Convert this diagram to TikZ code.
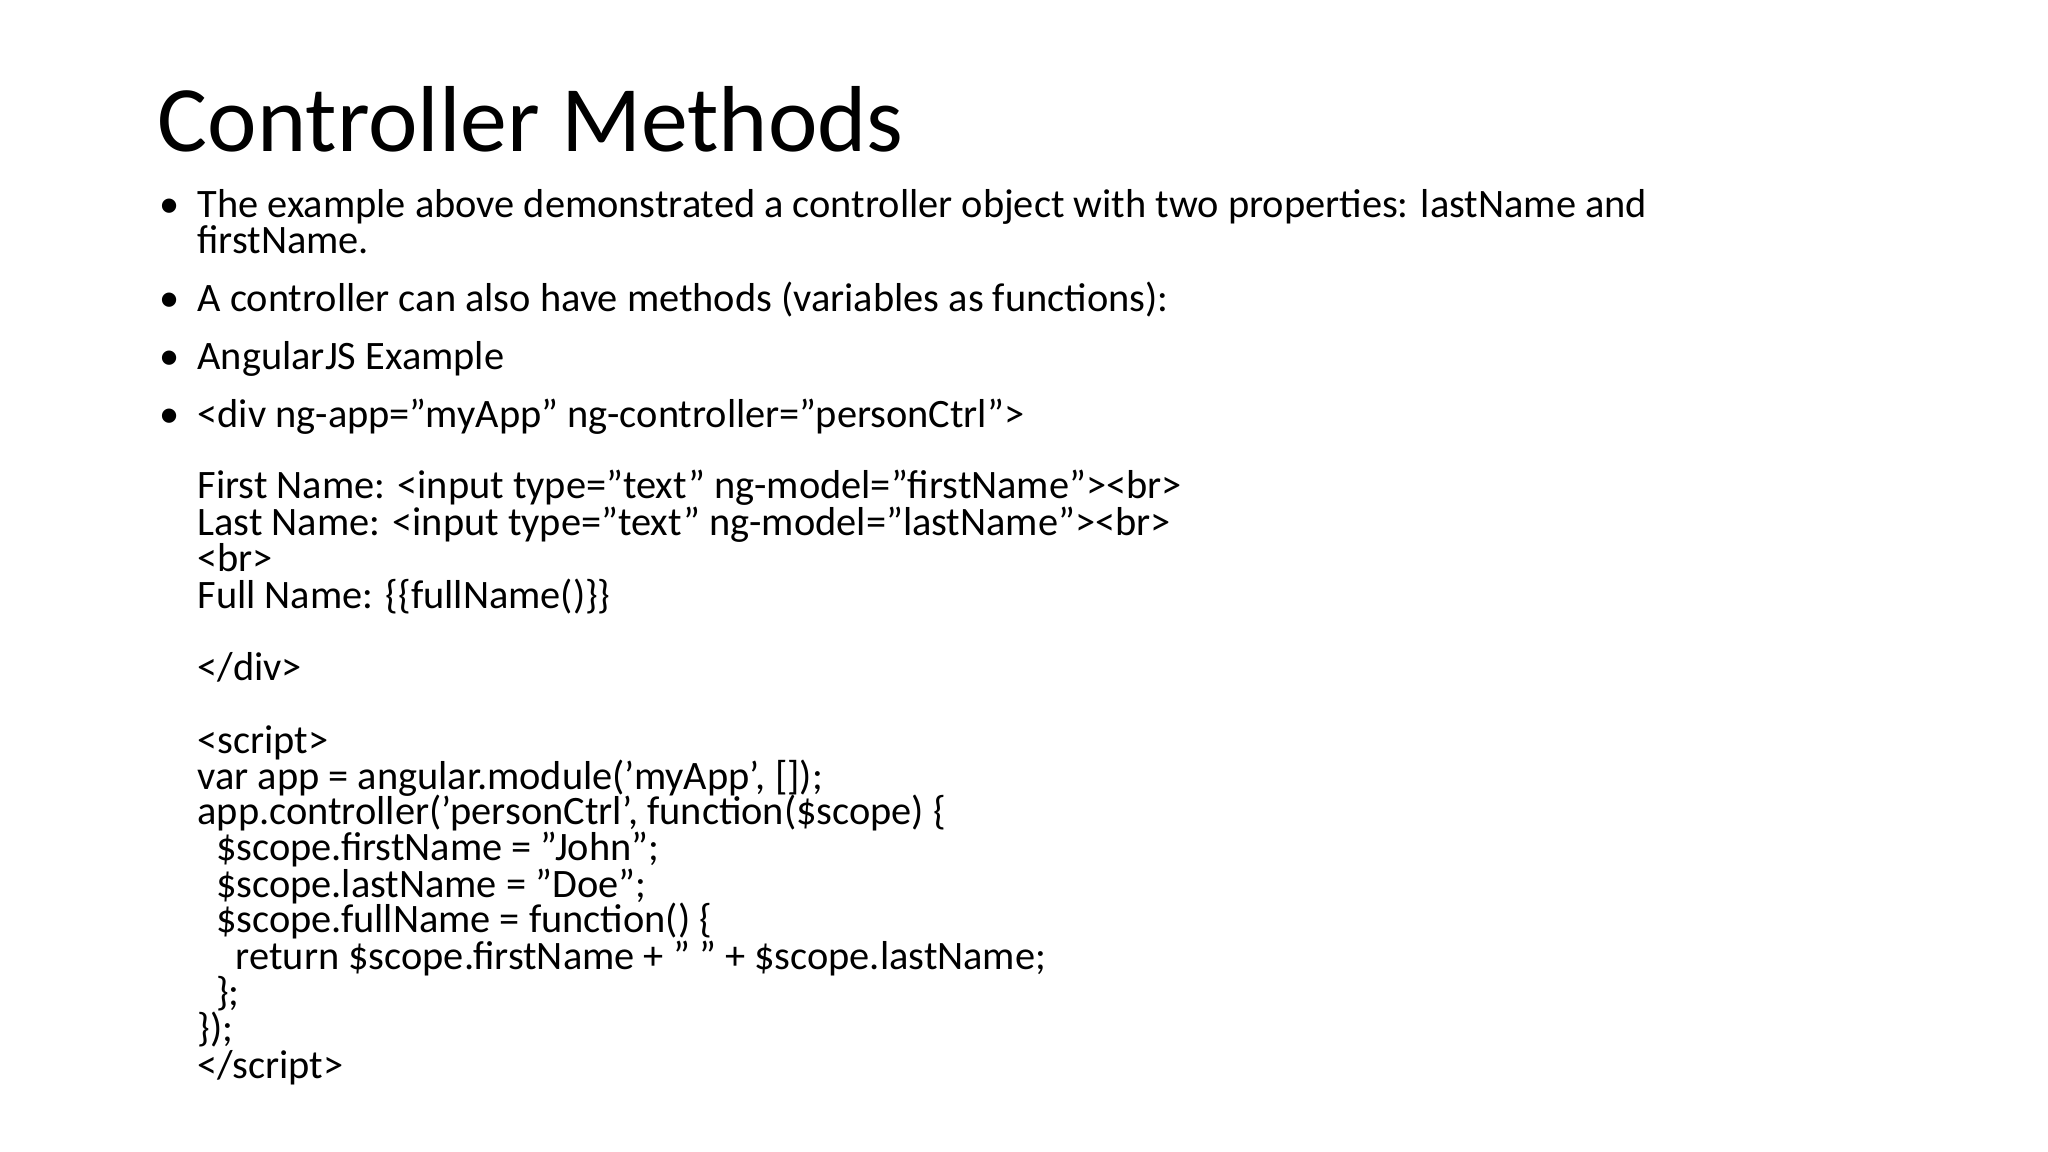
\documentclass[tikz,border=0pt]{standalone}
\usepackage{fontspec}
\setmainfont{Carlito}
\usetikzlibrary{positioning}
\tikzset{
  slidetitle/.style = {anchor=base west, inner sep=0pt, font=\fontsize{20.2}{24}\selectfont},
  bodyline/.style   = {anchor=base west, inner sep=0pt, font=\fontsize{8.7}{7.8}\selectfont},
  bulletmark/.style = {anchor=base west, inner sep=0pt, font=\fontsize{8.7}{7.8}\selectfont},
}
\begin{document}
\begin{tikzpicture}[x=0.01cm, y=-0.01cm]
  \useasboundingbox (0,0) rectangle (1552,873);

  % title
  \node[slidetitle] (title) at (119,115) {Controller Methods};

  % bullets
  \node[bulletmark] (m1) at (120,165) {•};
  \node[bodyline] (b1a) at (149,165) {The example above demonstrated a controller object with two properties: lastName and};
  \node[bodyline] (b1b) at (149,192) {firstName.};
  \node[bulletmark] (m2) at (120,236) {•};
  \node[bodyline] (b2) at (149,236) {A controller can also have methods (variables as functions):};
  \node[bulletmark] (m3) at (120,280) {•};
  \node[bodyline] (b3) at (149,280) {AngularJS Example};
  \node[bulletmark] (m4) at (120,324) {•};
  \node[bodyline] (b4) at (149,324) {<div ng-app="myApp" ng-controller="personCtrl">};

  % code
  \node[bodyline] (c1)  at (149,378) {First Name: <input type="text" ng-model="firstName"><br>};
  \node[bodyline] (c2)  at (149,406) {Last Name: <input type="text" ng-model="lastName"><br>};
  \node[bodyline] (c3)  at (149,433) {<br>};
  \node[bodyline] (c4)  at (149,461) {Full Name: \{\{fullName()\}\}};
  \node[bodyline] (c5)  at (149,516) {</div>};
  \node[bodyline] (c6)  at (149,571) {<script>};
  \node[bodyline] (c7)  at (149,598) {var app = angular.module('myApp', []);};
  \node[bodyline] (c8)  at (149,625) {app.controller('personCtrl', function(\$scope) \{};
  \node[bodyline] (c9)  at (163,652) {\$scope.firstName = "John";};
  \node[bodyline] (c10) at (163,680) {\$scope.lastName = "Doe";};
  \node[bodyline] (c11) at (163,707) {\$scope.fullName = function() \{};
  \node[bodyline] (c12) at (178,735) {return \$scope.firstName + " " + \$scope.lastName;};
  \node[bodyline] (c13) at (163,762) {\};};
  \node[bodyline] (c14) at (149,789) {\});};
  \node[bodyline] (c15) at (149,817) {</script>};
\end{tikzpicture}
\end{document}
